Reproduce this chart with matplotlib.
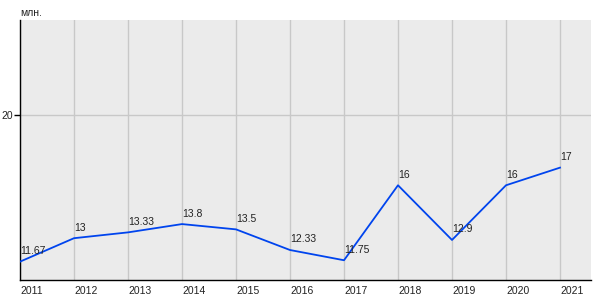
import matplotlib
matplotlib.use("Agg")
import matplotlib.pyplot as plt

years = [2011, 2012, 2013, 2014, 2015, 2016, 2017, 2018, 2019, 2020, 2021]
values = [11.67, 13, 13.33, 13.8, 13.5, 12.33, 11.75, 16, 12.9, 16, 17]
labels = ["11.67", "13", "13.33", "13.8", "13.5", "12.33", "11.75", "16", "12.9", "16", "17"]
yticks = [20]

plt.rcParams['font.family'] = ['Liberation Sans', 'DejaVu Sans']
fig = plt.figure(figsize=(6, 3), dpi=100)
ax = fig.add_axes([20/600, 20/300, 571/600, 260/300])
ax.set_facecolor('#ebebeb')
ax.set_xlim(2011, 2021.574)
ax.set_ylim(10.63, 25.37)
for s in ['top', 'right']:
    ax.spines[s].set_visible(False)
for s in ['left', 'bottom']:
    ax.spines[s].set_color('black')
    ax.spines[s].set_linewidth(1)
ax.set_xticks(years)
ax.set_xticklabels([str(y) for y in years], ha='left')
ax.set_yticks(yticks)
ax.set_yticklabels([str(t) for t in yticks])
ax.tick_params(axis='x', length=0, pad=4, labelsize=7.5, labelcolor='#222222')
ax.tick_params(axis='y', length=4, width=1, pad=1, labelsize=7.5, labelcolor='#222222')
ax.grid(True, color='#c8c8c8', linewidth=1)
ax.set_axisbelow(True)
ax.plot(years, values, color='#0044ee', linewidth=1.3, zorder=3)
for x, y, l in zip(years, values, labels):
    ax.annotate(l, (x, y), xytext=(0, 4), textcoords='offset points',
                ha='left', va='bottom', fontsize=7.5, color='#222222', zorder=4)
fig.text(20/600, 1 - 13/300, 'млн.', ha='left', va='center', fontsize=7.5, color='#222222')
fig.savefig('out.png', dpi=100)
